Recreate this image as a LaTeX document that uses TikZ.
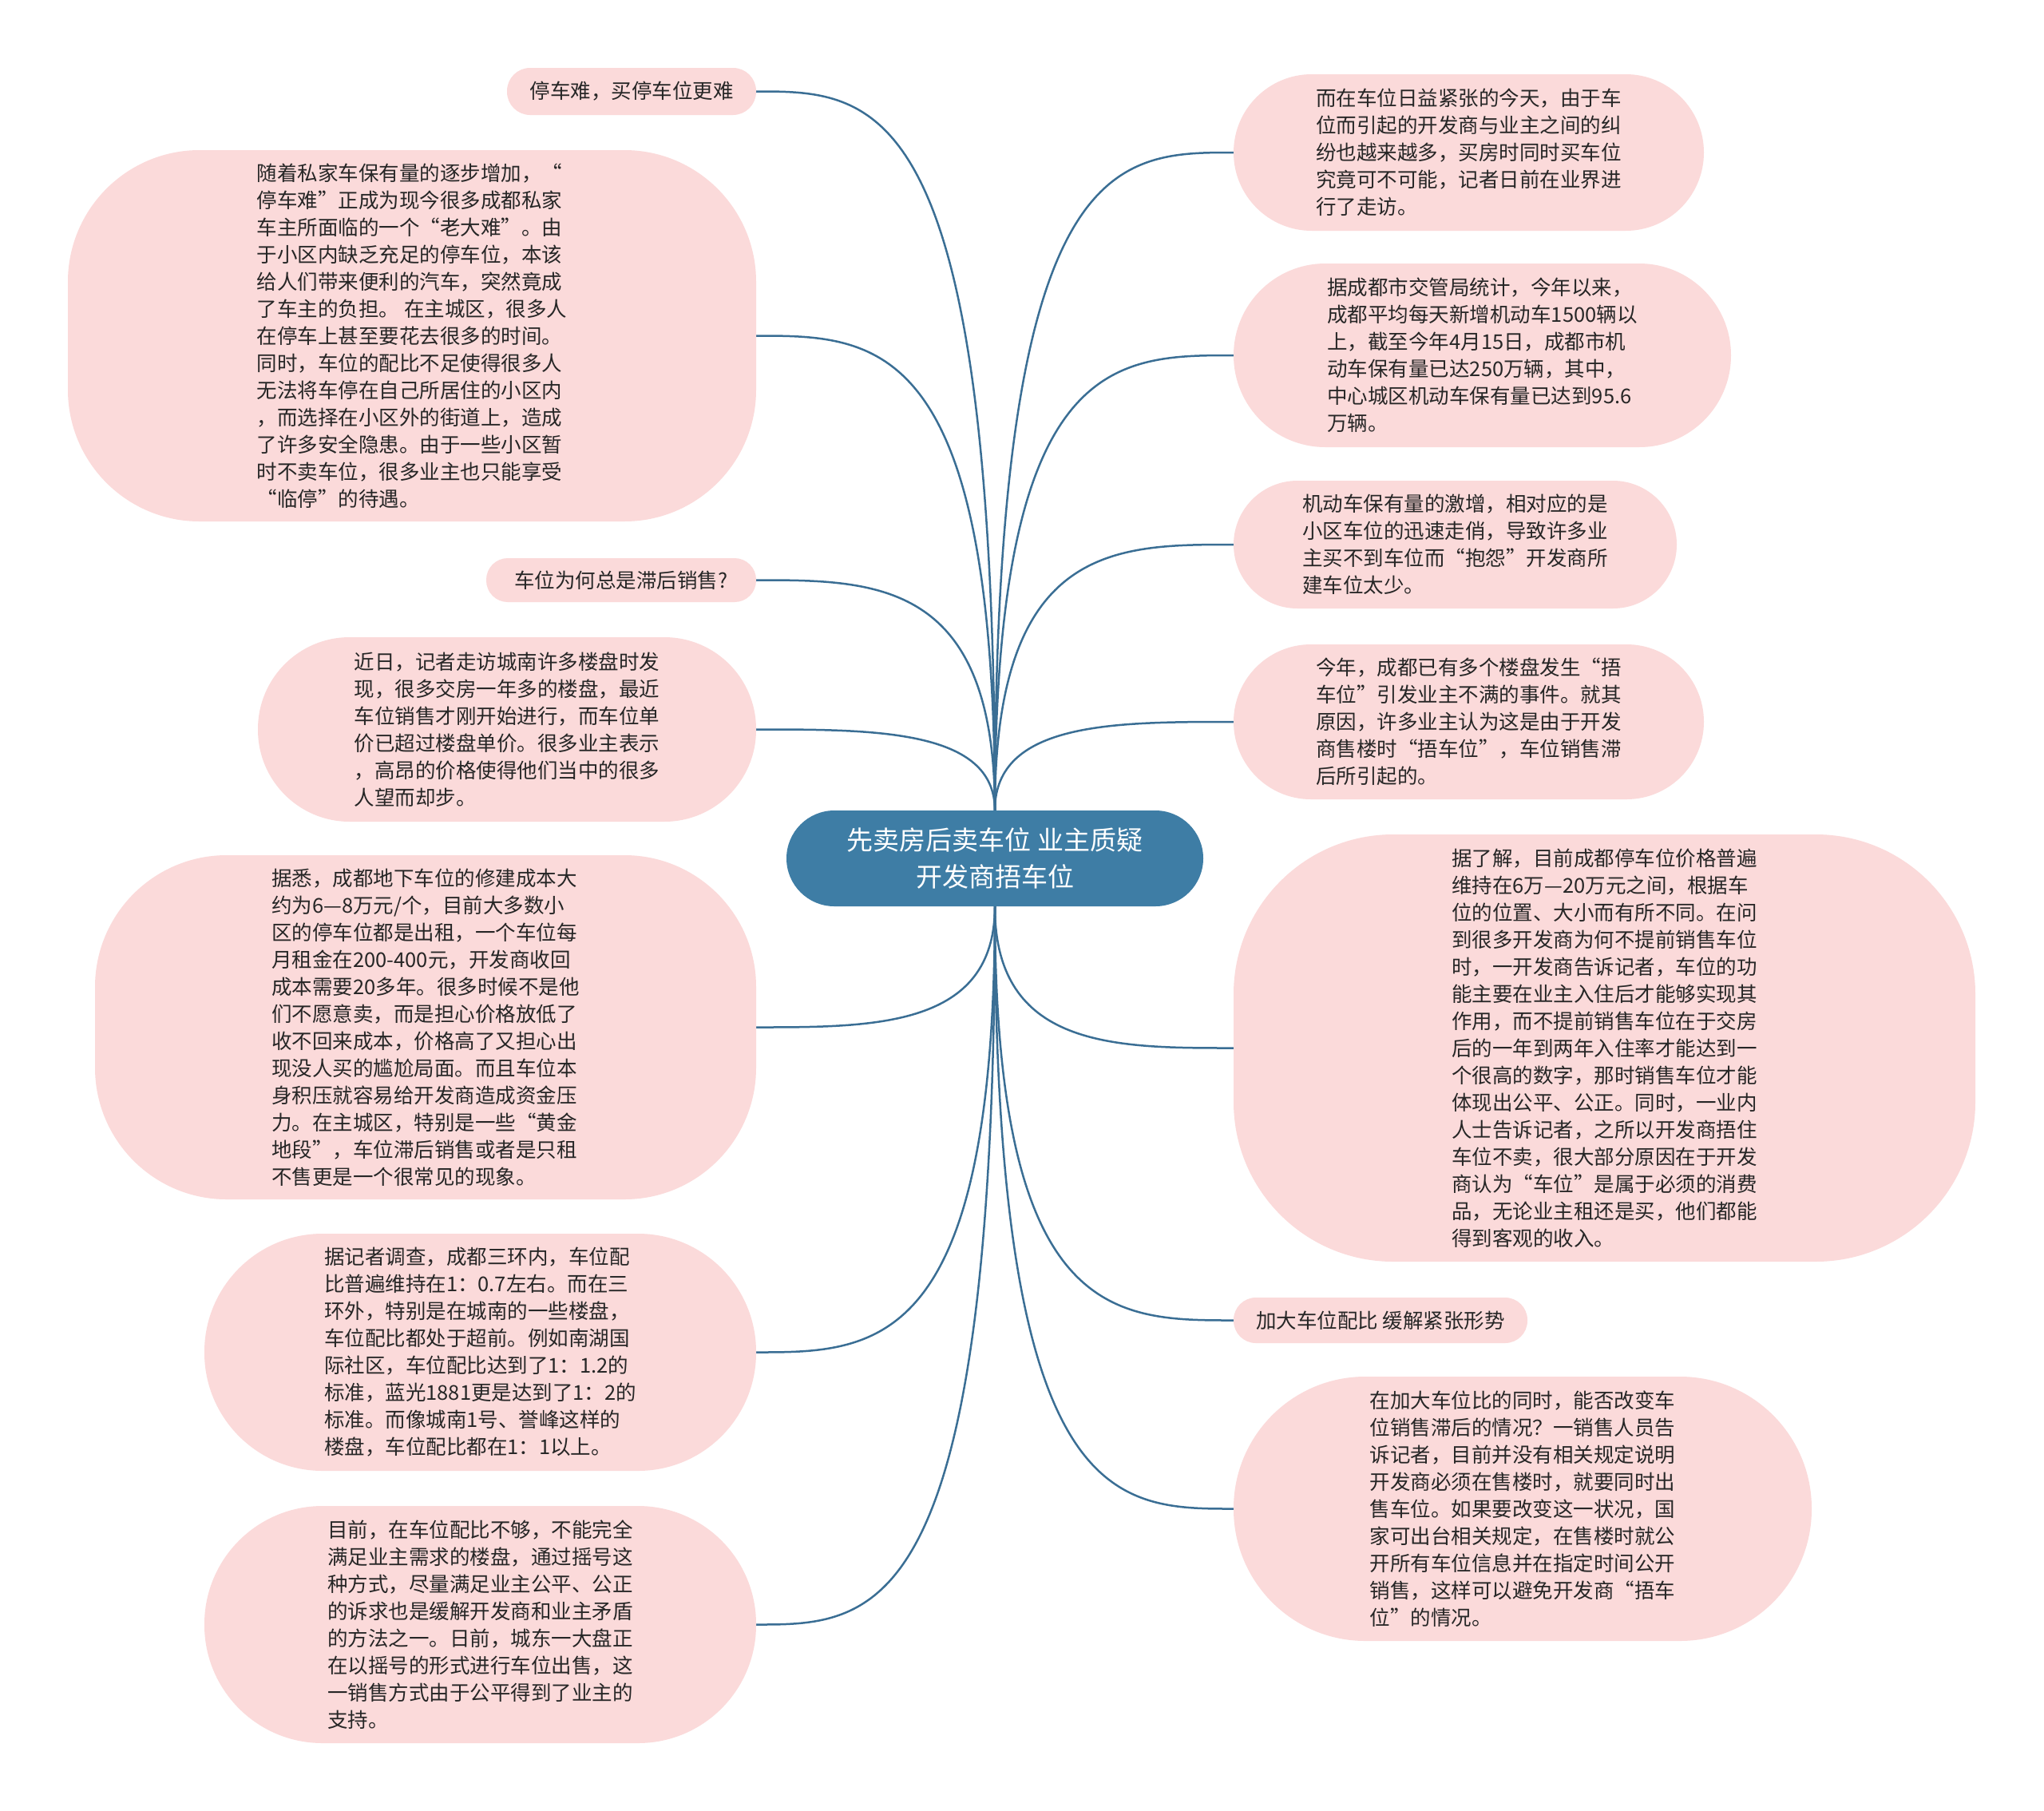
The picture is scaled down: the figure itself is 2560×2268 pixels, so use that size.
\documentclass[tikz,border=0pt]{standalone}
\usepackage{fontspec}
\setmainfont{Noto Sans CJK SC}
\usetikzlibrary{backgrounds,calc}
\definecolor{bubblefill}{RGB}{251,218,218}
\definecolor{hubfill}{RGB}{62,125,165}
\definecolor{linkcol}{RGB}{58,110,148}
\definecolor{ink}{RGB}{38,38,38}
\tikzset{
  leaf/.style={fill=bubblefill, draw=none, inner sep=0pt, align=left, text=ink,
    font=\fontsize{25.5}{34}\selectfont},
  hubnode/.style={fill=hubfill, draw=none, inner sep=0pt, align=center, text=white,
    font=\fontsize{33}{46}\selectfont, minimum width=522pt, minimum height=120pt,
    rounded corners=60pt},
  linkline/.style={draw=linkcol, line width=2.5pt},
}
\begin{document}
\begin{tikzpicture}[x=1pt,y=-1pt]
\useasboundingbox (0,0) rectangle (2560,2268);

\node[hubnode] (C) at (1246,1075) {先卖房后卖车位 业主质疑\\开发商捂车位};

% left side
\node[leaf, minimum width=312pt, minimum height=59pt, rounded corners=29pt] (L1) at (791,114.5) {停车难，买停车位更难};
\node[leaf, minimum width=862pt, minimum height=465pt, rounded corners=165pt] (L2) at (516,420.5) {随着私家车保有量的逐步增加，“\\停车难”正成为现今很多成都私家\\车主所面临的一个“老大难”。由\\于小区内缺乏充足的停车位，本该\\给人们带来便利的汽车，突然竟成\\了车主的负担。 在主城区，很多人\\在停车上甚至要花去很多的时间。\\同时，车位的配比不足使得很多人\\无法将车停在自己所居住的小区内\\，而选择在小区外的街道上，造成\\了许多安全隐患。由于一些小区暂\\时不卖车位，很多业主也只能享受\\“临停”的待遇。};
\node[leaf, minimum width=338pt, minimum height=55pt, rounded corners=27pt] (L3) at (778,726.5) {车位为何总是滞后销售?};
\node[leaf, minimum width=624pt, minimum height=231pt, rounded corners=115pt] (L4) at (635,913.5) {近日，记者走访城南许多楼盘时发\\现，很多交房一年多的楼盘，最近\\车位销售才刚开始进行，而车位单\\价已超过楼盘单价。很多业主表示\\，高昂的价格使得他们当中的很多\\人望而却步。};
\node[leaf, minimum width=828pt, minimum height=431pt, rounded corners=165pt] (L5) at (533,1286.5) {据悉，成都地下车位的修建成本大\\约为6—8万元/个，目前大多数小\\区的停车位都是出租，一个车位每\\月租金在200-400元，开发商收回\\成本需要20多年。很多时候不是他\\们不愿意卖，而是担心价格放低了\\收不回来成本，价格高了又担心出\\现没人买的尴尬局面。而且车位本\\身积压就容易给开发商造成资金压\\力。在主城区，特别是一些“黄金\\地段”，车位滞后销售或者是只租\\不售更是一个很常见的现象。};
\node[leaf, minimum width=691pt, minimum height=297pt, rounded corners=148pt] (L6) at (601.5,1693.5) {据记者调查，成都三环内，车位配\\比普遍维持在1：0.7左右。而在三\\环外，特别是在城南的一些楼盘，\\车位配比都处于超前。例如南湖国\\际社区，车位配比达到了1：1.2的\\标准，蓝光1881更是达到了1：2的\\标准。而像城南1号、誉峰这样的\\楼盘，车位配比都在1：1以上。};
\node[leaf, minimum width=691pt, minimum height=297pt, rounded corners=148pt] (L7) at (601.5,2034.5) {目前，在车位配比不够，不能完全\\满足业主需求的楼盘，通过摇号这\\种方式，尽量满足业主公平、公正\\的诉求也是缓解开发商和业主矛盾\\的方法之一。日前，城东一大盘正\\在以摇号的形式进行车位出售，这\\一销售方式由于公平得到了业主的\\支持。};

% right side
\node[leaf, minimum width=589pt, minimum height=196pt, rounded corners=98pt] (R1) at (1839.5,191) {而在车位日益紧张的今天，由于车\\位而引起的开发商与业主之间的纠\\纷也越来越多，买房时同时买车位\\究竟可不可能，记者日前在业界进\\行了走访。};
\node[leaf, minimum width=623pt, minimum height=230pt, rounded corners=115pt] (R2) at (1856.5,445) {据成都市交管局统计，今年以来，\\成都平均每天新增机动车1500辆以\\上，截至今年4月15日，成都市机\\动车保有量已达250万辆，其中，\\中心城区机动车保有量已达到95.6\\万辆。};
\node[leaf, minimum width=555pt, minimum height=160pt, rounded corners=80pt] (R3) at (1822.5,682) {机动车保有量的激增，相对应的是\\小区车位的迅速走俏，导致许多业\\主买不到车位而“抱怨”开发商所\\建车位太少。};
\node[leaf, minimum width=589pt, minimum height=194pt, rounded corners=97pt] (R4) at (1839.5,904) {今年，成都已有多个楼盘发生“捂\\车位”引发业主不满的事件。就其\\原因，许多业主认为这是由于开发\\商售楼时“捂车位”，车位销售滞\\后所引起的。};
\node[leaf, minimum width=929pt, minimum height=535pt, rounded corners=200pt] (R5) at (2009.5,1312.5) {据了解，目前成都停车位价格普遍\\维持在6万—20万元之间，根据车\\位的位置、大小而有所不同。在问\\到很多开发商为何不提前销售车位\\时，一开发商告诉记者，车位的功\\能主要在业主入住后才能够实现其\\作用，而不提前销售车位在于交房\\后的一年到两年入住率才能达到一\\个很高的数字，那时销售车位才能\\体现出公平、公正。同时，一业内\\人士告诉记者，之所以开发商捂住\\车位不卖，很大部分原因在于开发\\商认为“车位”是属于必须的消费\\品，无论业主租还是买，他们都能\\得到客观的收入。};
\node[leaf, minimum width=368pt, minimum height=57pt, rounded corners=28pt] (R6) at (1729,1653.5) {加大车位配比 缓解紧张形势};
\node[leaf, minimum width=724pt, minimum height=331pt, rounded corners=165pt] (R7) at (1907,1889.5) {在加大车位比的同时，能否改变车\\位销售滞后的情况？一销售人员告\\诉记者，目前并没有相关规定说明\\开发商必须在售楼时，就要同时出\\售车位。如果要改变这一状况，国\\家可出台相关规定，在售楼时就公\\开所有车位信息并在指定时间公开\\销售，这样可以避免开发商“捂车\\位”的情况。};

\begin{scope}[on background layer]
\fill[white] (0,0) rectangle (2560,2268);
\foreach \n/\a/\s in {L1/east/north, L2/east/north, L3/east/north, L4/east/north,
                      L5/east/south, L6/east/south, L7/east/south,
                      R1/west/north, R2/west/north, R3/west/north, R4/west/north,
                      R5/west/south, R6/west/south, R7/west/south}
  \draw[linkline] (C.\s) .. controls (C.\s |- \n.\a) and ($(C.\s |- \n.\a)!0.5!(\n.\a)$) .. (\n.\a);
\end{scope}
\end{tikzpicture}
\end{document}
